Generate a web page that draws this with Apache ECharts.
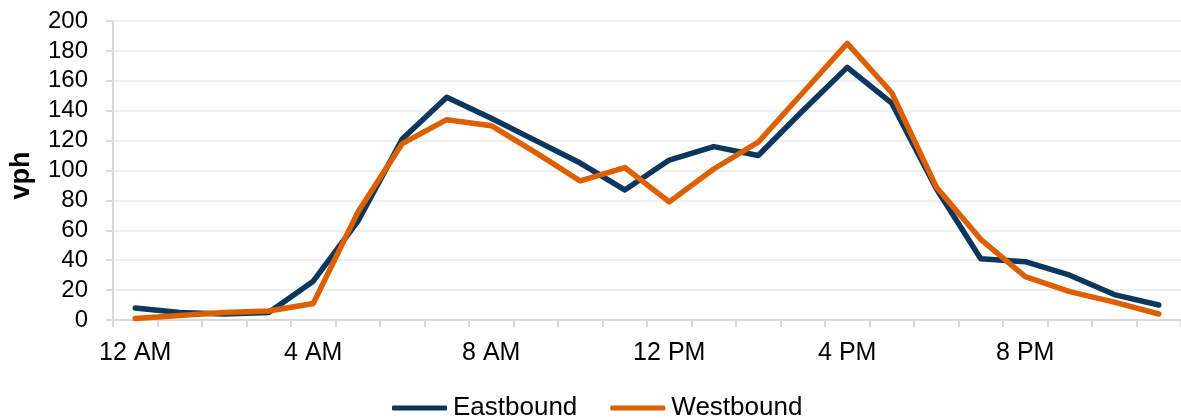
<!DOCTYPE html>
<html>
<head>
<meta charset="utf-8">
<script src="https://cdn.jsdelivr.net/npm/echarts@6/dist/echarts.min.js"></script>
<style>
  html, body { margin: 0; padding: 0; background: #ffffff; }
  #chart { width: 1181px; height: 418px; }
</style>
</head>
<body>
<div id="chart"></div>
<script>
// Hour-of-day categories (only every 4th one gets a label)
const hours = [
  '12 AM', '1 AM', '2 AM', '3 AM', '4 AM', '5 AM', '6 AM', '7 AM',
  '8 AM', '9 AM', '10 AM', '11 AM', '12 PM', '1 PM', '2 PM', '3 PM',
  '4 PM', '5 PM', '6 PM', '7 PM', '8 PM', '9 PM', '10 PM', '11 PM'
];

// Hourly volumes, vehicles per hour
const eastbound = [8, 5, 4, 5, 26, 66, 121, 149, 135, 120, 105, 87,
                   107, 116, 110, 140, 169, 145, 88, 41, 39, 30, 17, 10];
const westbound = [1, 3, 5, 6, 11, 72, 118, 134, 130, 112, 93, 102,
                   79, 101, 119, 152, 185, 152, 89, 54, 29, 19, 12, 4];

// Value axis range and step
const yMin = 0;
const yMax = 200;
const yStep = 20;

const FONT = "'Liberation Sans', Arial, sans-serif";
const NAVY = '#0b375e';
const ORANGE = '#dd6000';

const chart = echarts.init(document.getElementById('chart'), null, { renderer: 'canvas' });

chart.setOption({
  animation: false,
  backgroundColor: '#ffffff',
  textStyle: { fontFamily: FONT, color: '#000000' },
  grid: {
    left: 108,
    top: 21,
    height: 299,
    width: 1076
  },
  legend: {
    left: 387,
    top: 390,
    itemGap: 33,
    itemWidth: 55,
    itemHeight: 5,
    icon: 'roundRect',
    textStyle: { fontFamily: FONT, fontSize: 26, color: '#000000', padding: [0, 0, 0, 1] },
    data: ['Eastbound', 'Westbound']
  },
  xAxis: {
    type: 'category',
    data: hours,
    boundaryGap: true,
    axisLine: { show: true, lineStyle: { color: '#d9d9d9', width: 2 } },
    axisTick: { show: true, interval: 0, length: 7, lineStyle: { color: '#d9d9d9', width: 2 } },
    axisLabel: {
      interval: 3,
      margin: 21,
      fontFamily: FONT,
      fontSize: 25,
      color: '#000000'
    },
    splitLine: { show: false }
  },
  yAxis: {
    type: 'value',
    min: yMin,
    max: yMax,
    interval: yStep,
    name: 'vph',
    nameLocation: 'middle',
    nameGap: 78,
    nameTextStyle: {
      fontFamily: FONT,
      fontSize: 27,
      fontWeight: 'bold',
      color: '#000000',
      padding: [0, 10, 0, 0]
    },
    axisLine: { show: true, lineStyle: { color: '#d9d9d9', width: 2 } },
    axisTick: { show: true, length: 7, lineStyle: { color: '#d9d9d9', width: 2 } },
    axisLabel: { margin: 25, fontFamily: FONT, fontSize: 24, color: '#000000' },
    splitLine: { show: true, lineStyle: { color: '#eeeeee', width: 2 } }
  },
  series: [
    {
      name: 'Eastbound',
      type: 'line',
      data: eastbound,
      symbol: 'none',
      color: NAVY,
      lineStyle: { color: NAVY, width: 5.5, cap: 'round', join: 'round' }
    },
    {
      name: 'Westbound',
      type: 'line',
      data: westbound,
      symbol: 'none',
      color: ORANGE,
      lineStyle: { color: ORANGE, width: 5.5, cap: 'round', join: 'round' }
    }
  ]
});
</script>
</body>
</html>
